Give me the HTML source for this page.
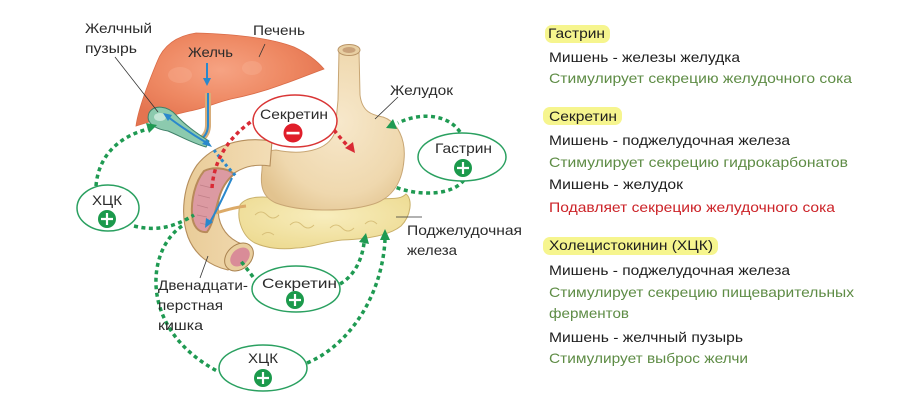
<!DOCTYPE html>
<html><head><meta charset="utf-8"><style>
html,body{margin:0;padding:0;background:#fff;width:914px;height:414px;overflow:hidden}
svg{display:block}
text{font-family:"Liberation Sans","DejaVu Sans",sans-serif;font-size:14px}
</style></head><body>
<svg width="914" height="414" viewBox="0 0 914 414" xmlns="http://www.w3.org/2000/svg">
<defs>
<radialGradient id="liv" cx="0.45" cy="0.4" r="0.6">
<stop offset="0" stop-color="#f6a383"/><stop offset="0.6" stop-color="#ee8862"/><stop offset="1" stop-color="#e47450"/>
</radialGradient>
<radialGradient id="sto" cx="0.55" cy="0.45" r="0.65">
<stop offset="0" stop-color="#f7e8cb"/><stop offset="0.7" stop-color="#efd8ae"/><stop offset="1" stop-color="#e2c38f"/>
</radialGradient>
<radialGradient id="pan" cx="0.5" cy="0.4" r="0.7">
<stop offset="0" stop-color="#f8edbd"/><stop offset="1" stop-color="#ecd98e"/>
</radialGradient>
<linearGradient id="duo" x1="0" y1="0" x2="1" y2="0">
<stop offset="0" stop-color="#e9cc98"/><stop offset="1" stop-color="#f3ddb6"/>
</linearGradient>
</defs>

<!-- Liver -->
<path d="M136 126 C138 110 147 86 157 62 C163 46 176 36 196 33 C230 34 268 37 294 47 C309 54 318 62 324 69 C310 74 296 80 281 85 C262 92 246 96 231 99 C218 102 205 108 190 111 C172 115 152 121 136 126 Z" fill="url(#liv)" stroke="#d96b47" stroke-width="0.8"/>
<ellipse cx="180" cy="75" rx="12" ry="8" fill="#f8b497" opacity="0.35"/>
<ellipse cx="252" cy="68" rx="10" ry="7" fill="#f8b497" opacity="0.35"/>

<!-- Pancreas -->
<path d="M240 205 C246 196 264 195 285 200 L380 199 C392 198 400 200 406 194 C413 199 411 216 401 226 C390 235 370 239 342 240 C322 242 311 248 296 248 C281 250 266 248 255 243 C243 237 236 220 240 205 Z" fill="url(#pan)" stroke="#c9b06a" stroke-width="1"/>
<path d="M255 215 q6 -6 12 0 q6 6 12 0 M290 225 q6 -6 12 0 q6 6 12 0 M330 228 q6 -6 12 0 q6 6 12 0 M365 224 q6 -6 12 0 M262 235 q6 -5 12 0" fill="none" stroke="#d8c07a" stroke-width="1"/>

<!-- Stomach -->
<path d="M339 50 L359 50 L360 95 C362 112 372 115 383 117 C398 122 406 140 404 160 C402 185 390 200 370 205 C345 212 300 212 276 203 C262 197 260 185 262 170 C262 158 266 150 276 150 C300 155 328 152 335 132 L338 100 Z" fill="url(#sto)" stroke="#c8a674" stroke-width="1"/>
<ellipse cx="349" cy="50" rx="11" ry="5.5" fill="#e8cfa2" stroke="#b99466" stroke-width="1"/>
<ellipse cx="349" cy="50" rx="6.5" ry="3" fill="#c9a27a"/>

<!-- Duodenum -->
<path d="M272 141 C240 136 212 146 197 165 C183 185 180 215 188 237 C195 255 210 266 228 270 L248 246 C232 242 222 232 219 218 C216 200 222 182 236 172 C246 166 256 164 270 166 Z" fill="url(#duo)" stroke="#b58e5c" stroke-width="1.1"/>
<path d="M204 171 C195 182 191 200 192 215 C193 226 198 233 207 232 C212 226 215 212 219 198 C222 187 227 180 234 174 C226 167 212 167 204 171 Z" fill="#dc9aa2" stroke="#b88a5a" stroke-width="2"/>
<path d="M200 185 l12 3 M198 195 l12 3 M197 205 l11 3 M197 215 l10 2 M200 223 l8 2" stroke="#c07f88" stroke-width="0.8"/>
<ellipse cx="239" cy="257" rx="16" ry="12" transform="rotate(-42 239 257)" fill="#e9cf9f" stroke="#a9824f" stroke-width="1"/>
<ellipse cx="240" cy="257" rx="11" ry="8" transform="rotate(-42 240 257)" fill="#d98c98"/>
<path d="M246 206 C236 207 226 210 216 213" fill="none" stroke="#dcaa68" stroke-width="3"/>

<!-- bile duct -->
<path d="M208 93 L208 125 C208 133 204 138 198 141" fill="none" stroke="#d7ad7a" stroke-width="6"/>
<path d="M208 93 L208 125 C208 133 204 138 198 141" fill="none" stroke="#2a88cc" stroke-width="2"/>
<!-- gallbladder -->
<path d="M149 113 C154 104 168 106 176 115 C185 125 196 133 209 141 L206 147 C192 143 180 136 168 131 C155 129 145 123 149 113 Z" fill="#8ccaae" stroke="#3f8068" stroke-width="1"/>
<ellipse cx="160" cy="117" rx="6" ry="4" fill="#c4e6d6"/>
<path d="M207 143 C195 136 180 126 168 117" fill="none" stroke="#2a88cc" stroke-width="2"/>
<polygon points="163,113 172,115 168,121" fill="#2a88cc"/>
<polygon points="212,147 202,144 207,139" fill="#2a88cc"/>
<path d="M214 150 C220 158 228 168 236 176" fill="none" stroke="#2a88cc" stroke-width="3" stroke-dasharray="3 3"/>
<path d="M232 178 C226 190 220 205 210 222" fill="none" stroke="#2a88cc" stroke-width="2"/>
<polygon points="205,228 206,218 213,222" fill="#2a88cc"/>
<line x1="207" y1="63" x2="207" y2="79" stroke="#2a88cc" stroke-width="2"/>
<polygon points="207,86 203,78 211,78" fill="#2a88cc"/>

<!-- leader lines -->
<g stroke="#333" stroke-width="0.8" fill="none">
<line x1="115" y1="57" x2="158" y2="112"/>
<line x1="265" y1="44" x2="259" y2="57"/>
<line x1="398" y1="97" x2="375" y2="119"/>
<line x1="396" y1="217" x2="422" y2="217"/>
<line x1="208" y1="256" x2="200" y2="278"/>
</g>

<!-- green dotted connectors -->
<g fill="none" stroke="#1f9a52" stroke-width="3.5" stroke-dasharray="4 3.5">
<path d="M96 186 C98 160 114 138 148 129"/>
<path d="M134 226 C158 232 176 226 194 215"/>
<path d="M182 226 C146 250 138 330 219 372"/>
<path d="M307 363 C350 345 382 295 385 240"/>
<path d="M340 284 C354 276 362 260 364 243"/>
<path d="M253 277 C248 270 243 264 240 260"/>
<path d="M460 132 C448 114 420 112 398 123"/>
<path d="M464 180 C452 196 418 196 395 187"/>
</g>
<g fill="#1f9a52">
<polygon points="157,125 149,133 146,123"/>
<polygon points="385,229 380,240 390,240"/>
<polygon points="366,233 369,244 359,242"/>
<polygon points="386,128 397,129 393,119"/>
</g>

<!-- red dotted -->
<g fill="none" stroke="#d92a35" stroke-width="3.5" stroke-dasharray="4 3.5">
<path d="M212 188 C214 160 228 138 252 121"/>
<path d="M334 130 C338 135 342 140 347 145"/>
</g>
<polygon points="355,153 345,148 353,142" fill="#d92a35"/>

<!-- Ellipses -->
<ellipse cx="295" cy="121" rx="42" ry="26" fill="#fff" stroke="#d93535" stroke-width="1.5"/>
<ellipse cx="462" cy="157" rx="44" ry="24" fill="#fff" stroke="#2aa060" stroke-width="1.5"/>
<ellipse cx="108" cy="208" rx="31" ry="23" fill="#fff" stroke="#2aa060" stroke-width="1.5"/>
<ellipse cx="296" cy="289" rx="44" ry="23" fill="#fff" stroke="#2aa060" stroke-width="1.5"/>
<ellipse cx="263" cy="368" rx="44" ry="23" fill="#fff" stroke="#2aa060" stroke-width="1.5"/>

<circle cx="293" cy="133" r="9.5" fill="#e01e2a"/>
<rect x="286.5" y="131.8" width="13" height="2.6" fill="#fff"/>
<g fill="#1c9a4c">
<circle cx="463" cy="168" r="9"/>
<circle cx="107" cy="219" r="9"/>
<circle cx="295" cy="300" r="9"/>
<circle cx="263" cy="378" r="9"/>
</g>
<g stroke="#fff" stroke-width="2.2">
<path d="M457 168 h12 M463 162 v12"/>
<path d="M101 219 h12 M107 213 v12"/>
<path d="M289 300 h12 M295 294 v12"/>
<path d="M257 378 h12 M263 372 v12"/>
</g>

<!-- diagram labels -->
<g fill="#2b2b2b">
<text x="85" y="33" textLength="67" lengthAdjust="spacingAndGlyphs">Желчный</text>
<text x="85" y="53" textLength="52" lengthAdjust="spacingAndGlyphs">пузырь</text>
<text x="253" y="35" textLength="52" lengthAdjust="spacingAndGlyphs">Печень</text>
<text x="188" y="57" textLength="45" lengthAdjust="spacingAndGlyphs">Желчь</text>
<text x="390" y="95" textLength="63" lengthAdjust="spacingAndGlyphs">Желудок</text>
<text x="260" y="119" textLength="68" lengthAdjust="spacingAndGlyphs">Секретин</text>
<text x="435" y="153" textLength="57" lengthAdjust="spacingAndGlyphs">Гастрин</text>
<text x="92" y="205" textLength="30" lengthAdjust="spacingAndGlyphs">ХЦК</text>
<text x="407" y="235" textLength="115" lengthAdjust="spacingAndGlyphs">Поджелудочная</text>
<text x="407" y="255" textLength="50" lengthAdjust="spacingAndGlyphs">железа</text>
<text x="262" y="288" textLength="75" lengthAdjust="spacingAndGlyphs">Секретин</text>
<text x="158" y="290" textLength="90" lengthAdjust="spacingAndGlyphs">Двенадцати-</text>
<text x="158" y="310" textLength="65" lengthAdjust="spacingAndGlyphs">перстная</text>
<text x="158" y="330" textLength="45" lengthAdjust="spacingAndGlyphs">кишка</text>
<text x="248" y="363" textLength="30" lengthAdjust="spacingAndGlyphs">ХЦК</text>
</g>

<!-- right panel -->
<rect x="545" y="25" width="65" height="18" rx="7" fill="#f6f58e"/>
<rect x="543" y="107" width="79" height="18" rx="7" fill="#f6f58e"/>
<rect x="543" y="237" width="175" height="18" rx="7" fill="#f6f58e"/>
<g>
<text x="548" y="38" fill="#1e1e1e" textLength="57" lengthAdjust="spacingAndGlyphs">Гастрин</text>
<text x="549" y="62" fill="#1e1e1e" textLength="191" lengthAdjust="spacingAndGlyphs">Мишень - железы желудка</text>
<text x="549" y="83" fill="#5e8c45" textLength="303" lengthAdjust="spacingAndGlyphs">Стимулирует секрецию желудочного сока</text>
<text x="549" y="121" fill="#1e1e1e" textLength="68" lengthAdjust="spacingAndGlyphs">Секретин</text>
<text x="549" y="145" fill="#1e1e1e" textLength="241" lengthAdjust="spacingAndGlyphs">Мишень - поджелудочная железа</text>
<text x="549" y="167" fill="#5e8c45" textLength="299" lengthAdjust="spacingAndGlyphs">Стимулирует секрецию гидрокарбонатов</text>
<text x="549" y="189" fill="#1e1e1e" textLength="134" lengthAdjust="spacingAndGlyphs">Мишень - желудок</text>
<text x="549" y="212" fill="#cc2328" textLength="286" lengthAdjust="spacingAndGlyphs">Подавляет секрецию желудочного сока</text>
<text x="549" y="250" fill="#1e1e1e" textLength="164" lengthAdjust="spacingAndGlyphs">Холецистокинин (ХЦК)</text>
<text x="549" y="275" fill="#1e1e1e" textLength="241" lengthAdjust="spacingAndGlyphs">Мишень - поджелудочная железа</text>
<text x="549" y="297" fill="#5e8c45" textLength="305" lengthAdjust="spacingAndGlyphs">Стимулирует секрецию пищеварительных</text>
<text x="549" y="318" fill="#5e8c45" textLength="80" lengthAdjust="spacingAndGlyphs">ферментов</text>
<text x="549" y="342" fill="#1e1e1e" textLength="194" lengthAdjust="spacingAndGlyphs">Мишень - желчный пузырь</text>
<text x="549" y="363" fill="#5e8c45" textLength="199" lengthAdjust="spacingAndGlyphs">Стимулирует выброс желчи</text>
</g>
</svg>
</body></html>
